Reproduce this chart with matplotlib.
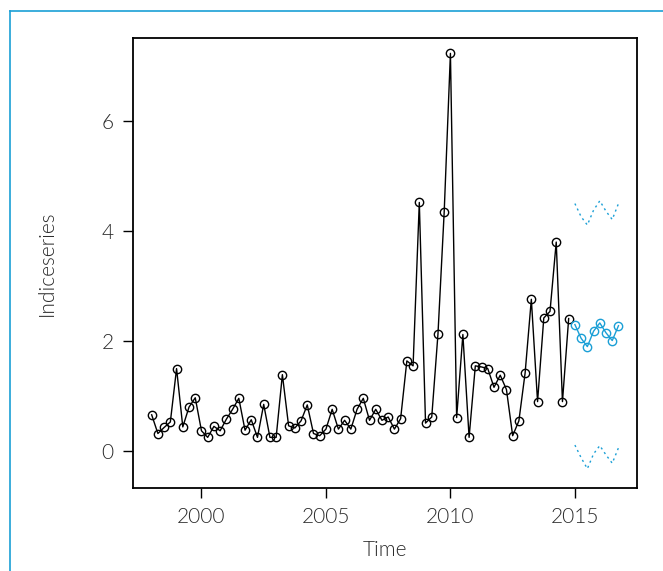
import matplotlib
matplotlib.use("Agg")
import matplotlib.pyplot as plt
import numpy as np
from matplotlib.lines import Line2D

# quarterly series, starts 1998 Q1
start_year = 1998
freq = 4
indice = [0.66, 0.32, 0.43, 0.53, 1.50, 0.44, 0.80, 0.97, 0.37, 0.25,
          0.45, 0.37, 0.58, 0.76, 0.96, 0.38, 0.57, 0.25, 0.85, 0.25,
          0.25, 1.39, 0.46, 0.42, 0.55, 0.84, 0.32, 0.28, 0.40, 0.76,
          0.40, 0.56, 0.40, 0.76, 0.96, 0.56, 0.76, 0.56, 0.62, 0.40,
          0.59, 1.64, 1.55, 4.52, 0.51, 0.62, 2.13, 4.35, 7.23, 0.61,
          2.12, 0.25, 1.55, 1.53, 1.50, 1.16, 1.38, 1.12, 0.28, 0.55,
          1.42, 2.76, 0.90, 2.42, 2.54, 3.80, 0.90, 2.41]

# forecast, starts 2015 Q1
fc_start = 2015
forecast = [2.30, 2.05, 1.90, 2.18, 2.33, 2.15, 2.01, 2.28]
upper = [4.50, 4.26, 4.11, 4.38, 4.55, 4.36, 4.21, 4.50]
lower = [0.11, -0.12, -0.32, -0.05, 0.10, -0.07, -0.22, 0.06]

xticks = [2000, 2005, 2010, 2015]
yticks = [0, 2, 4, 6]

t = start_year + np.arange(len(indice)) / freq
tf = fc_start + np.arange(len(forecast)) / freq

blue = "#1a9fd6"
txt = "#2b2b2b"

plt.rcParams["font.family"] = ["Lato", "DejaVu Sans"]

fig = plt.figure(figsize=(6.63, 5.71), dpi=100)
ax = fig.add_axes([0.2006, 0.1454, 0.7604, 0.7881])

ax.plot(t, indice, color="black", lw=1.0, marker="o", ms=6,
        mfc="none", mec="black", mew=1.0)
ax.plot(tf, forecast, color=blue, lw=1.0, marker="o", ms=6,
        mfc="none", mec=blue, mew=1.0)
ax.plot(tf, upper, color=blue, lw=1.0, ls=(0, (1.5, 2.5)))
ax.plot(tf, lower, color=blue, lw=1.0, ls=(0, (1.5, 2.5)))

ax.set_xlim(1997.25, 2017.5)
ax.set_ylim(-0.67, 7.51)
ax.set_xticks(xticks)
ax.set_yticks(yticks)
ax.tick_params(direction="out", length=7, width=1, colors="black",
               labelcolor=txt, labelsize=15, pad=7)
for lab in ax.get_xticklabels() + ax.get_yticklabels():
    lab.set_fontweight(300)
for s in ax.spines.values():
    s.set_linewidth(1.3)

ax.set_xlabel("Time", fontsize=15, color=txt, fontweight=300, labelpad=9)
ax.set_ylabel("Indiceseries", fontsize=15, color=txt, fontweight=300, labelpad=32)

# blue frame around the panel
fig.add_artist(Line2D([10 / 663, 1], [1 - 11 / 571, 1 - 11 / 571],
                      transform=fig.transFigure, color=blue, lw=1.2))
fig.add_artist(Line2D([10 / 663, 10 / 663], [0, 1 - 11 / 571],
                      transform=fig.transFigure, color=blue, lw=1.2))

fig.savefig("out.png", dpi=100)
